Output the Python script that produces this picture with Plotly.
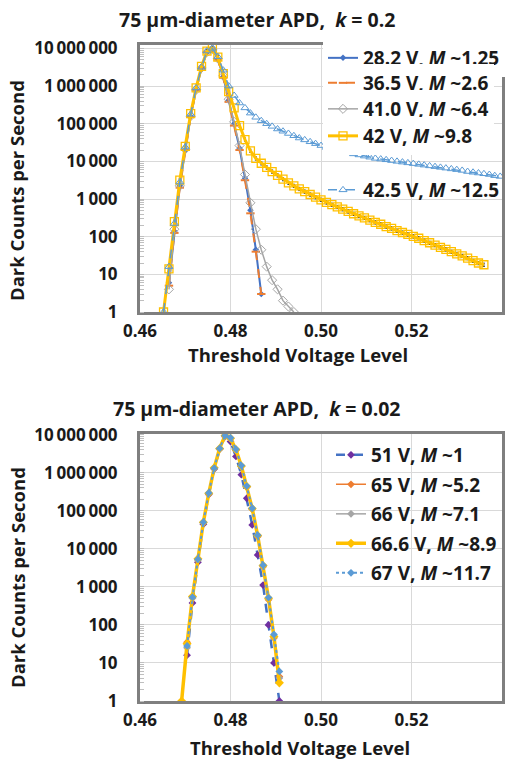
import plotly.graph_objects as go

# ---------------- data: top chart (k = 0.2) ----------------
x_top = [0.4652, 0.4664, 0.4676, 0.4688, 0.4700, 0.4712, 0.4724, 0.4736, 0.4748, 0.4760,
         0.4772, 0.4784, 0.4796, 0.4808, 0.4820, 0.4832, 0.4844, 0.4856, 0.4868, 0.4880,
         0.4892, 0.4904, 0.4916, 0.4928, 0.4940, 0.4952, 0.4964, 0.4976, 0.4988, 0.5000,
         0.5012, 0.5024, 0.5036, 0.5048, 0.5060, 0.5072, 0.5084, 0.5096, 0.5108, 0.5120,
         0.5132, 0.5144, 0.5156, 0.5168, 0.5180, 0.5192, 0.5204, 0.5216, 0.5228, 0.5240,
         0.5252, 0.5264, 0.5276, 0.5288, 0.5300, 0.5312, 0.5324, 0.5336, 0.5348, 0.5360,
         0.5372, 0.5384, 0.5396]

v28_2 = [6, 140, 2240, 20000, 158000, 794000, 3020000, 7940000, 9330000,
         5250000, 1780000, 417000, 100000, 22400, 3550, 500, 45, 3]
v36_5 = [5, 126, 2000, 20000, 151000, 794000, 2950000, 7940000, 9330000,
         5010000, 1660000, 380000, 89100, 20000, 3160, 417, 40, 3]
v41_0 = [4, 158, 2240, 20900, 158000, 794000, 3020000, 7940000, 9550000,
         5370000, 1860000, 447000, 112000, 26300, 4470, 794, 158, 45, 16, 7, 4, 2, 1.4, 1]
v42 = [1, 14, 251, 3160, 25100, 186000, 891000, 3310000, 8510000, 10000000,
       5890000, 2140000, 708000, 263000, 89100, 38000, 19100, 12000, 8910, 6920,
       5370, 4270, 3390, 2690, 2240, 1860, 1580, 1320, 1120, 955,
       813, 708, 617, 537, 468, 407, 355, 316, 275, 240,
       214, 186, 166, 145, 129, 115, 102, 91, 79, 69,
       60, 52, 46, 40, 35, 31, 27, 23, 20, 18]
v42_5 = [1, 16, 224, 2820, 24000, 178000, 891000, 3160000, 8510000, 10000000,
         6030000, 2630000, 1000000, 562000, 355000, 263000, 191000, 148000, 120000, 100000,
         85100, 72400, 63100, 55000, 47900, 41700, 37200, 33100, 29500, 26300,
         23400, 21400, 19500, 18200, 17000, 15800, 14800, 13800, 12900, 12000,
         11500, 11000, 10500, 10000, 9550, 9120, 8710, 8320, 7940, 7590,
         7240, 6920, 6610, 6310, 6030, 5750, 5370, 5130, 4900, 4680,
         4470, 4170, 3980]

# ---------------- data: bottom chart (k = 0.02) ----------------
x_bot = [0.4692, 0.4704, 0.4716, 0.4728, 0.4740, 0.4752, 0.4764, 0.4776, 0.4788, 0.4800,
         0.4812, 0.4824, 0.4836, 0.4848, 0.4860, 0.4872, 0.4884, 0.4896, 0.4908]

v51 = [16, 380, 4470, 44700, 269000, 1260000, 4170000, 8910000,
       6610000, 2690000, 891000, 214000, 42700, 6920, 1120, 100, 10, 1]
v65 = [35, 525, 5250, 49000, 282000, 1320000, 4270000, 9330000,
       7940000, 3980000, 1480000, 417000, 110000, 20900, 3390, 457, 45, 4.4]
v66 = [25, 500, 5010, 47900, 282000, 1320000, 4270000, 9330000,
       7940000, 3980000, 1480000, 427000, 112000, 21400, 3550, 479, 48, 4]
v66_6 = [1, 32, 562, 5500, 50100, 288000, 1350000, 4370000, 9550000,
         8130000, 4070000, 1510000, 437000, 115000, 22400, 3630, 501, 50, 3]
v67 = [28, 537, 5370, 50100, 295000, 1320000, 4370000, 9550000,
       8320000, 4170000, 1550000, 447000, 117000, 22900, 3720, 525, 56, 6]

x_ticks = [0.46, 0.48, 0.50, 0.52, 0.54]
y_ticks = [1, 10, 100, 1000, 10000, 100000, 1000000, 10000000]
y_tick_text = ["1", "10", "100", "1\u2009000", "10\u2009000", "100\u2009000",
               "1\u2009000\u2009000", "10\u2009000\u2009000"]

# ---------------- colours ----------------
BLUE = "#4472C4"
ORANGE = "#ED7D31"
GRAY = "#A5A5A5"
GOLD = "#FFC000"
LBLUE = "#5B9BD5"
PURPLE = "#7030A0"

FONT = "Open Sans"
W, H = 517, 760

fig = go.Figure()

# top chart traces
fig.add_trace(go.Scatter(x=x_top[1:1 + len(v28_2)], y=v28_2, mode="lines+markers",
                         name="28.2 V, <i>M</i> ~1.25",
                         line=dict(color=BLUE, width=2),
                         marker=dict(symbol="diamond", size=5, color=BLUE),
                         xaxis="x", yaxis="y", legend="legend"))
fig.add_trace(go.Scatter(x=x_top[1:1 + len(v36_5)], y=v36_5, mode="lines+markers",
                         name="36.5 V, <i>M</i> ~2.6",
                         line=dict(color=ORANGE, width=2, dash="dash"),
                         marker=dict(symbol="line-ew-open", size=6, color=ORANGE, line=dict(width=2, color=ORANGE)),
                         xaxis="x", yaxis="y", legend="legend2"))
fig.add_trace(go.Scatter(x=x_top[1:1 + len(v41_0)], y=v41_0, mode="lines+markers",
                         name="41.0 V, <i>M</i> ~6.4",
                         line=dict(color=GRAY, width=1.5),
                         marker=dict(symbol="diamond-open", size=7, color=GRAY, line=dict(width=1)),
                         xaxis="x", yaxis="y", legend="legend3"))
fig.add_trace(go.Scatter(x=x_top[:len(v42)], y=v42, mode="lines+markers",
                         name="42 V, <i>M</i> ~9.8",
                         line=dict(color=GOLD, width=3),
                         marker=dict(symbol="square-open", size=8, color=GOLD, line=dict(width=1.3)),
                         error_y=dict(type="percent", value=10, color="#404040", thickness=1, width=1),
                         xaxis="x", yaxis="y", legend="legend4"))
fig.add_trace(go.Scatter(x=x_top[:len(v42_5)], y=v42_5, mode="lines+markers",
                         name="42.5 V, <i>M</i> ~12.5",
                         line=dict(color=LBLUE, width=1.5, dash="dash"),
                         marker=dict(symbol="triangle-up-open", size=7, color=LBLUE, line=dict(width=1)),
                         xaxis="x", yaxis="y", legend="legend5"))

# bottom chart traces
fig.add_trace(go.Scatter(x=x_bot[1:1 + len(v51)], y=v51, mode="lines+markers",
                         name="51 V, <i>M</i> ~1",
                         line=dict(color=BLUE, width=2.5, dash="dash"),
                         marker=dict(symbol="diamond", size=6, color=PURPLE),
                         xaxis="x2", yaxis="y2", legend="legend6"))
fig.add_trace(go.Scatter(x=x_bot[1:1 + len(v65)], y=v65, mode="lines+markers",
                         name="65 V, <i>M</i> ~5.2",
                         line=dict(color=ORANGE, width=1.5),
                         marker=dict(symbol="diamond", size=6, color=ORANGE),
                         xaxis="x2", yaxis="y2", legend="legend7"))
fig.add_trace(go.Scatter(x=x_bot[1:1 + len(v66)], y=v66, mode="lines+markers",
                         name="66 V, <i>M</i> ~7.1",
                         line=dict(color=GRAY, width=1.5),
                         marker=dict(symbol="diamond", size=6, color=GRAY),
                         xaxis="x2", yaxis="y2", legend="legend8"))
fig.add_trace(go.Scatter(x=x_bot[:len(v66_6)], y=v66_6, mode="lines+markers",
                         name="66.6 V, <i>M</i> ~8.9",
                         line=dict(color=GOLD, width=3.5),
                         marker=dict(symbol="diamond", size=7, color=GOLD),
                         xaxis="x2", yaxis="y2", legend="legend9"))
fig.add_trace(go.Scatter(x=x_bot[1:1 + len(v67)], y=v67, mode="lines+markers",
                         name="67 V, <i>M</i> ~11.7",
                         line=dict(color=LBLUE, width=2, dash="dot"),
                         marker=dict(symbol="diamond", size=6, color=LBLUE),
                         xaxis="x2", yaxis="y2", legend="legend10"))

XDOM = [140 / W, 502 / W]
TICKFONT = dict(family=FONT, size=17, color="#1a1a1a", weight="bold")

def xaxis_cfg(anchor):
    return dict(domain=XDOM, range=[0.46, 0.54], tickvals=x_ticks,
                ticktext=["%.2f" % v for v in x_ticks], anchor=anchor,
                showgrid=True, gridcolor="#d9d9d9", gridwidth=1,
                showline=True, mirror=True, linecolor="#7f7f7f", linewidth=3,
                zeroline=False, ticks="", ticklabelstandoff=2, automargin=False,
                tickfont=TICKFONT)

def yaxis_cfg(domain, rng, anchor):
    return dict(domain=domain, type="log", range=rng, tickvals=y_ticks, ticktext=y_tick_text,
                anchor=anchor, showgrid=True, gridcolor="#d9d9d9", gridwidth=1,
                showline=True, mirror=True, linecolor="#7f7f7f", linewidth=3,
                zeroline=False, ticks="", ticklabelstandoff=16, automargin=False,
                minor=dict(ticks="inside", ticklen=4, tickcolor="#bfbfbf", dtick="D1", showgrid=False),
                tickfont=TICKFONT)

legend_font = dict(family=FONT, size=19, color="#1a1a1a", weight="bold")

top_legend_y = [58, 83, 109, 136, 190]
bot_legend_y = [455, 484.5, 514, 543.5, 573]
legends = {}
for i, yy in enumerate(top_legend_y):
    key = "legend" if i == 0 else "legend%d" % (i + 1)
    legends[key] = dict(x=323 / W, y=1 - yy / H, xanchor="left", yanchor="middle",
                        bgcolor="white" if i < 4 else "rgba(255,255,255,0)",
                        font=legend_font, itemwidth=30)
for i, yy in enumerate(bot_legend_y):
    key = "legend%d" % (i + 6)
    legends[key] = dict(x=331 / W, y=1 - yy / H, xanchor="left", yanchor="middle",
                        bgcolor="rgba(255,255,255,0)", font=legend_font, itemwidth=30)

fig.update_layout(
    width=W, height=H, autosize=False,
    margin=dict(l=0, r=0, t=0, b=0, pad=0),
    paper_bgcolor="white", plot_bgcolor="white",
    xaxis=xaxis_cfg("y"),
    yaxis=yaxis_cfg([1 - 312 / H, 1 - 45 / H], [0, 7.09], "x"),
    xaxis2=xaxis_cfg("y2"),
    yaxis2=yaxis_cfg([1 - 701 / H, 1 - 434 / H], [0, 7.02], "x2"),
    showlegend=True,
    **legends,
)

title_font = dict(family=FONT, size=19.5, color="#1a1a1a", weight="bold")
axis_title_font = dict(family=FONT, size=18.5, color="#1a1a1a", weight="bold")
ann = [
    dict(text="75 µm-diameter APD,\u00a0\u00a0<i>k</i> = 0.2", x=257 / W, y=1 - 19 / H, font=title_font),
    dict(text="75 µm-diameter APD,\u00a0\u00a0<i>k</i> = 0.02", x=257 / W, y=1 - 409 / H, font=title_font),
    dict(text="Threshold Voltage Level", x=298 / W, y=1 - 355 / H, font=axis_title_font),
    dict(text="Threshold Voltage Level", x=300 / W, y=1 - 747 / H, font=axis_title_font),
    dict(text="Dark Counts per Second", x=17 / W, y=1 - 191 / H, textangle=-90, font=axis_title_font),
    dict(text="Dark Counts per Second", x=17 / W, y=1 - 578 / H, textangle=-90, font=axis_title_font),
]
for a in ann:
    fig.add_annotation(xref="paper", yref="paper", showarrow=False,
                       xanchor="center", yanchor="middle", **a)

fig.write_html("out.html", config={"displayModeBar": False},
               post_script="document.body.style.margin='0';")
